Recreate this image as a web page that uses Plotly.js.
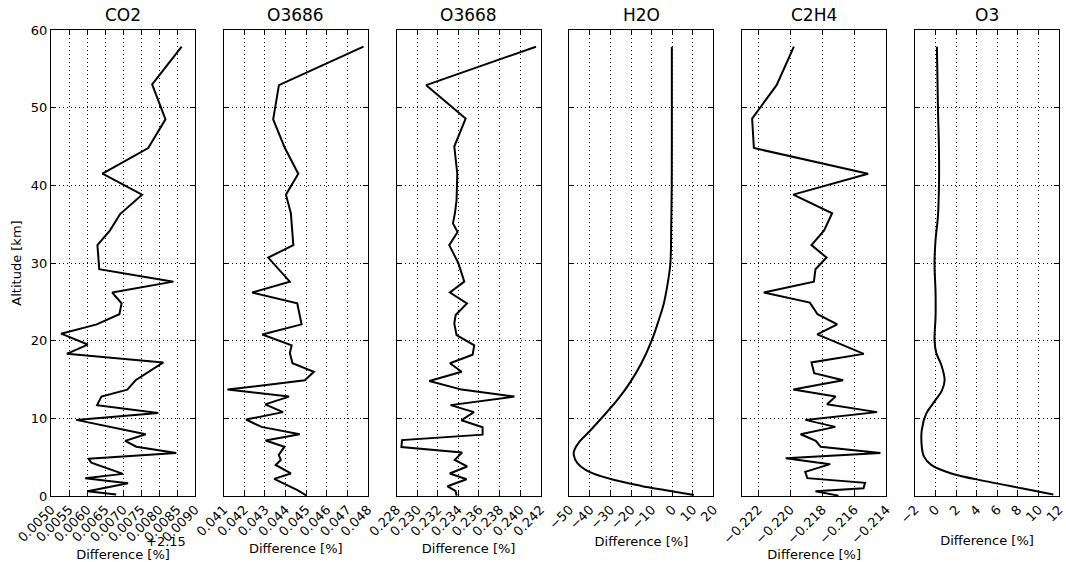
<!DOCTYPE html>
<html>
<head>
<meta charset="utf-8">
<script src="https://cdn.plot.ly/plotly-3.0.1.min.js"></script>
<style>html,body{margin:0;padding:0;background:#fff;}#chart{width:1066px;height:562px;}</style>
</head>
<body>
<div id="chart"></div>
<script>
// ---- data ----
var panelTitles = ["CO2", "O3686", "O3668", "H2O", "C2H4", "O3"];

var co2Alt  = [57.85, 53.0, 48.5, 44.8, 41.5, 38.8, 36.3, 34.2, 32.3, 29.2, 27.6, 26.2, 24.8, 23.4, 22.1, 20.9, 19.5, 18.3, 17.2, 14.9, 13.7, 12.8, 11.7, 10.7, 9.8, 7.95, 7.1, 6.35, 5.55, 4.8, 4.3, 2.85, 2.3, 1.65, 0.6, 0.2];
var co2Diff = [0.00863, 0.00781, 0.00818, 0.00770, 0.00643, 0.00753, 0.00692, 0.00664, 0.00629, 0.00634, 0.00840, 0.00670, 0.00696, 0.00690, 0.00627, 0.00528, 0.00602, 0.00544, 0.00812, 0.00735, 0.00712, 0.00640, 0.00628, 0.00798, 0.00570, 0.00763, 0.00706, 0.00737, 0.00848, 0.00604, 0.00612, 0.00700, 0.00595, 0.00714, 0.00602, 0.00681];
var co2Offset = "+2.15";

var o3686Alt  = [57.85, 52.9, 48.5, 44.8, 41.5, 38.8, 36.4, 32.3, 30.7, 27.6, 26.2, 24.8, 22.1, 20.8, 19.4, 18.4, 17.1, 16.0, 14.9, 13.7, 12.8, 11.8, 10.8, 9.85, 8.9, 7.95, 7.15, 6.35, 5.3, 4.65, 4.0, 2.9, 2.2, 1.4, 0.75, 0.05];
var o3686Diff = [0.04779, 0.04368, 0.04340, 0.04397, 0.04462, 0.04402, 0.04426, 0.04438, 0.04316, 0.04421, 0.04238, 0.04457, 0.04478, 0.04287, 0.04430, 0.04421, 0.04434, 0.04538, 0.04494, 0.04118, 0.04417, 0.04301, 0.04388, 0.04208, 0.04283, 0.04469, 0.04303, 0.04395, 0.04367, 0.04377, 0.04352, 0.04426, 0.04345, 0.04410, 0.04458, 0.04502];

var o3668Alt  = [57.85, 52.9, 48.6, 45.0, 41.5, 38.1, 36.4, 35.1, 34.0, 32.3, 30.0, 27.6, 26.2, 24.8, 23.3, 22.2, 20.7, 19.4, 18.2, 17.1, 16.0, 14.8, 13.7, 12.8, 11.7, 10.8, 9.75, 8.85, 7.9, 7.2, 6.3, 5.6, 4.65, 3.8, 2.9, 2.15, 1.25, 0.65, 0.05];
var o3668Diff = [0.24155, 0.23088, 0.23471, 0.23361, 0.23390, 0.23383, 0.23367, 0.23348, 0.23393, 0.23312, 0.23400, 0.23458, 0.23319, 0.23484, 0.23374, 0.23361, 0.23383, 0.23555, 0.23539, 0.23319, 0.23432, 0.23118, 0.23432, 0.23945, 0.23325, 0.23552, 0.23430, 0.23636, 0.23636, 0.22853, 0.22847, 0.23437, 0.23365, 0.23486, 0.23317, 0.23480, 0.23295, 0.23372, 0.23385];

var h2oAlt  = [57.8, 50, 40, 35, 30, 27.4, 24.8, 22.7, 20, 17.1, 14.5, 12.4, 10.2, 8.3, 7.0, 5.9, 5.3, 4.2, 3.1, 2.05, 1.3, 0.77, 0.13];
var h2oDiff = [-0.2, -0.2, -0.25, -0.5, -0.9, -2.2, -4.1, -6.5, -10.0, -15.0, -20.8, -26.6, -33.8, -40.3, -45.1, -47.6, -47.9, -46.0, -40.3, -28.1, -15.1, -3.8, 10.5];

var c2h4Alt  = [57.85, 52.9, 48.6, 44.8, 41.5, 38.8, 36.4, 34.2, 32.3, 30.7, 29.2, 27.6, 26.2, 24.9, 23.4, 22.1, 20.8, 18.3, 17.2, 15.8, 14.9, 13.7, 12.8, 11.8, 10.8, 9.8, 8.9, 7.95, 7.1, 6.35, 5.55, 4.85, 4.1, 3.1, 2.3, 1.7, 1.0, 0.6, 0.05];
var c2h4Diff = [-0.21977, -0.22085, -0.22238, -0.22227, -0.21513, -0.21981, -0.21738, -0.21788, -0.21867, -0.21773, -0.21842, -0.21852, -0.22165, -0.21877, -0.21829, -0.21706, -0.21831, -0.21540, -0.21867, -0.21850, -0.21669, -0.21981, -0.21716, -0.21770, -0.21457, -0.21905, -0.21718, -0.21935, -0.21840, -0.21810, -0.21436, -0.22028, -0.21750, -0.21906, -0.21893, -0.21532, -0.21542, -0.21842, -0.21698];

var o3Alt  = [57.85, 50, 44.5, 40, 36, 33, 30, 26.1, 23.1, 20, 18.4, 16.9, 14.9, 13.6, 11.9, 10.6, 8.5, 6.35, 5.1, 4.0, 2.9, 1.85, 1.0, 0.2];
var o3Diff = [0.13, 0.23, 0.33, 0.33, 0.23, 0.0, -0.1, 0.0, 0.0, -0.1, 0.07, 0.55, 0.88, 0.62, -0.26, -0.91, -1.34, -1.34, -1.14, -0.42, 1.53, 5.1, 8.36, 11.45];

// axis tick settings
var xRanges  = [[0.0050, 0.0090], [0.041, 0.048], [0.228, 0.242], [-50, 20], [-0.223, -0.214], [-2, 12]];
var xTick0   = [0.0050, 0.041, 0.228, -50, -0.222, -2];
var xDtick   = [0.0005, 0.001, 0.002, 10, 0.002, 2];
var xFormats = [".4f", ".3f", ".3f", "d", ".3f", "d"];
var yTickVals = [0, 10, 20, 30, 40, 50, 60];

// ---- build ----
var series = [[co2Diff, co2Alt], [o3686Diff, o3686Alt], [o3668Diff, o3668Alt], [h2oDiff, h2oAlt], [c2h4Diff, c2h4Alt], [o3Diff, o3Alt]];
var smooth = [false, false, false, true, false, true];
var FONT = "DejaVu Sans, sans-serif";

var traces = [];
var layout = {
  width: 1066, height: 562,
  margin: {l: 51, r: 7, t: 30, b: 66},
  paper_bgcolor: "#fff", plot_bgcolor: "#fff",
  showlegend: false,
  font: {family: FONT, size: 13, color: "#000"},
  annotations: []
};

var w = 1 / 7, step = 6 / 35;
for (var i = 0; i < 6; i++) {
  var sfx = i === 0 ? "" : String(i + 1);
  traces.push({
    x: series[i][0], y: series[i][1],
    xaxis: "x" + sfx, yaxis: "y" + sfx,
    type: "scatter", mode: "lines",
    line: smooth[i] ? {color: "#000", width: 2, shape: "spline", smoothing: 1.0} : {color: "#000", width: 2},
    hoverinfo: "x+y"
  });
  var common = {
    showline: true, linecolor: "#000", linewidth: 1, mirror: "allticks",
    ticks: "inside", ticklen: 5, tickwidth: 1, tickcolor: "#000",
    showgrid: true, gridcolor: "#000", gridwidth: 1, griddash: "1px,3px",
    zeroline: false, tickfont: {family: FONT, size: 13, color: "#000"}
  };
  var xa = Object.assign({}, common, {
    domain: [i * step, i * step + w],
    range: xRanges[i], tick0: xTick0[i], dtick: xDtick[i], tickmode: "linear",
    tickformat: xFormats[i], tickangle: -45,
    anchor: "y" + sfx,
    title: {text: "Difference [%]", font: {family: FONT, size: 13, color: "#000"}}
  });
  var ya = Object.assign({}, common, {
    domain: [0, 1], range: [0, 60], tickmode: "array", tickvals: yTickVals,
    anchor: "x" + sfx,
    showticklabels: i === 0
  });
  if (i === 0) {
    ya.title = {text: "Altitude [km]", standoff: 6, font: {family: FONT, size: 13, color: "#000"}};
  } else {
    ya.matches = "y";
  }
  layout["xaxis" + sfx] = xa;
  layout["yaxis" + sfx] = ya;
  layout.annotations.push({
    text: panelTitles[i], xref: "x" + sfx + " domain", yref: "paper",
    x: 0.5, y: 1, xanchor: "center", yanchor: "bottom", yshift: 3,
    showarrow: false, font: {family: FONT, size: 17, color: "#000"}
  });
}
layout.annotations.push({
  text: co2Offset, xref: "paper", yref: "paper",
  x: 0.136, y: -0.097, xanchor: "right", yanchor: "middle",
  showarrow: false, font: {family: FONT, size: 13, color: "#000"}
});

Plotly.newPlot("chart", traces, layout, {displayModeBar: false, staticPlot: true});
</script>
</body>
</html>
